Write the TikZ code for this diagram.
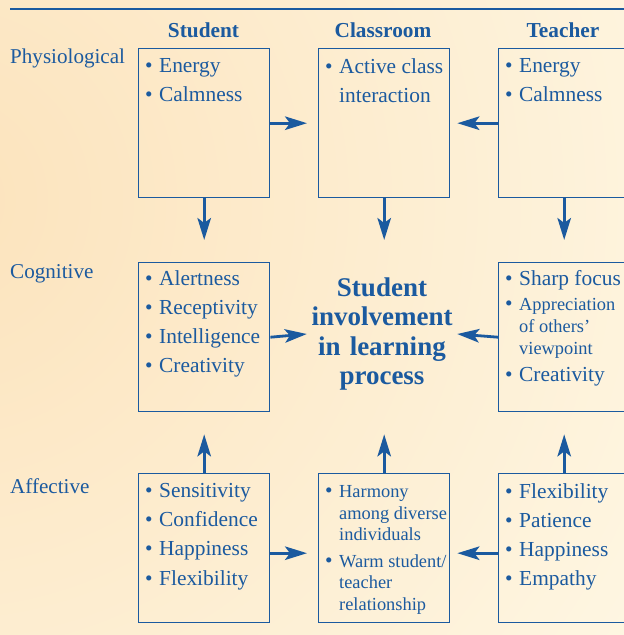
\documentclass[tikz,border=0pt]{standalone}
\usepackage{fontspec}
\setmainfont{Liberation Serif}
\usetikzlibrary{arrows.meta,shadings}

\definecolor{ublue}{HTML}{1B5A9F}
\definecolor{bgwarm}{HTML}{FCE3BC}
\definecolor{bgpale}{HTML}{FEF7E4}

\newcommand{\bul}{\makebox[14pt][l]{\textbullet}}
\newcommand{\ind}{\hspace*{14pt}}
\newcommand{\sm}{\fontsize{18.4}{21.8}\selectfont}

\tikzset{
  cell/.style={draw=ublue, line width=1.4pt, minimum width=131pt, minimum height=149pt, anchor=north west, inner sep=0pt},
  items/.style={anchor=north west, align=left, text=ublue, inner sep=0pt, font=\fontsize{21.4}{29.3}\selectfont},
  tight items/.style={items, font=\fontsize{21.4}{21.8}\selectfont},
  head/.style={text=ublue, anchor=base, inner sep=0pt, font=\bfseries\fontsize{21.3}{24}\selectfont},
  level/.style={text=ublue, anchor=base west, inner sep=0pt, font=\fontsize{21.1}{24}\selectfont},
  centre/.style={text=ublue, align=center, text width=150pt, inner sep=0pt, font=\bfseries\fontsize{27}{29.2}\selectfont},
  flow/.style={draw=ublue, line width=2.8pt, -{Stealth[length=22pt,width=13.5pt,inset=5pt]}},
}

\begin{document}
\begin{tikzpicture}[x=1pt,y=-1pt]
  \useasboundingbox (0,0) rectangle (624,635);
  \fill[bgpale] (0,0) rectangle (624,635);
  \begin{scope}
    \clip (0,0) rectangle (624,635);
    \shade[inner color=bgwarm, outer color=bgpale] (-60,200) circle (860);
  \end{scope}

  %top rule
  \draw[ublue, line width=1.2pt] (10,9) -- (624,9);

  %column heads and row labels
  \node[head] (hstu) at (203.5,37) {Student};
  \node[head] (hcls) at (383,37) {Classroom};
  \node[head] (htea) at (563,37) {Teacher};
  \node[level] (lphy) at (10,63) {Physiological};
  \node[level] (lcog) at (10,278) {Cognitive};
  \node[level] (laff) at (10,493) {Affective};

  %the boxes
  \node[cell] (sp) at (138,48) {};
  \node[cell] (cp) at (318,48) {};
  \node[cell] (tp) at (498,48) {};
  \node[cell] (sc) at (138,262) {};
  \node[cell] (tc) at (498,262) {};
  \node[cell] (sa) at (138,473) {};
  \node[cell] (ca) at (318,473) {};
  \node[cell] (ta) at (498,473) {};

  %physiological lists
  \node[items] (sptxt) at (145,58) {\bul Energy\\ \bul Calmness};
  \node[items] (cptxt) at (325,58) {\bul Active class\\ \ind interaction};
  \node[items] (tptxt) at (505,58) {\bul Energy\\ \bul Calmness};

  %cognitive lists
  \node[items] (sctxt) at (145,270) {\bul Alertness\\ \bul Receptivity\\ \bul Intelligence\\ \bul Creativity};
  \node[tight items] (tctxt) at (505,270) {\bul Sharp focus\\[3.5pt] \bul{\sm Appreciation}\\ \ind{\sm of others’}\\ \ind{\sm viewpoint}\\[6pt] \bul Creativity};
  \node[centre] (inv) at (382,334) {Student\\involvement\\in learning\\process};

  %affective lists
  \node[items] (satxt) at (145,483) {\bul Sensitivity\\ \bul Confidence\\ \bul Happiness\\ \bul Flexibility};
  \node[tight items] (catxt) at (325,485) {\bul{\sm Harmony}\\ \ind{\sm among diverse}\\ \ind{\sm individuals}\\[4.5pt] \bul{\sm Warm student/}\\ \ind{\sm teacher}\\ \ind{\sm relationship}};
  \node[items] (tatxt) at (505,483) {\bul Flexibility\\ \bul Patience\\ \bul Happiness\\ \bul Empathy};

  %across
  \draw[flow, shorten >=11pt] (sp.east) -- (cp.west);
  \draw[flow, shorten >=7pt] (tp.west) -- (cp.east);
  \draw[flow] (sc.east) -- (inv.west);
  \draw[flow] (tc.west) -- (inv.east);
  \draw[flow, shorten >=11pt] ([yshift=-5pt]sa.east) -- ([yshift=-5pt]ca.west);
  \draw[flow, shorten >=7pt] ([yshift=-5pt]ta.west) -- ([yshift=-5pt]ca.east);

  %down and up
  \draw[flow, shorten >=22pt] (sp.south) -- (sc.north);
  \draw[flow, shorten >=22pt] (cp.south) -- (cp.south |- sc.north);
  \draw[flow, shorten >=22pt] (tp.south) -- (tc.north);
  \draw[flow, shorten >=22pt] (sa.north) -- (sc.south);
  \draw[flow, shorten >=22pt] (ca.north) -- (ca.north |- sc.south);
  \draw[flow, shorten >=22pt] (ta.north) -- (tc.south);
\end{tikzpicture}
\end{document}
